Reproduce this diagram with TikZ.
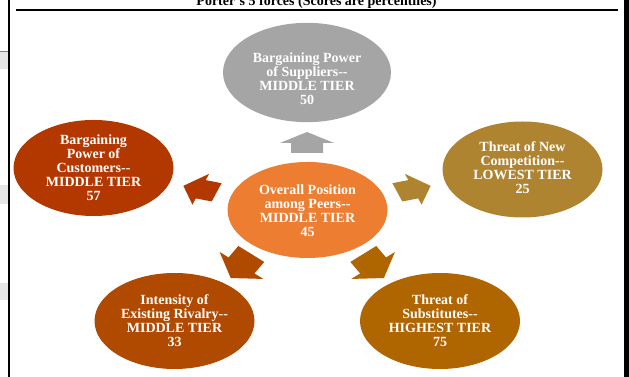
\documentclass[tikz,border=0pt]{standalone}
\usepackage{fontspec}
\setmainfont{Liberation Serif}
\usetikzlibrary{shapes.geometric}
\definecolor{cgray}{HTML}{A5A5A5}
\definecolor{corange}{HTML}{ED7D31}
\definecolor{cred}{HTML}{B33800}
\definecolor{cgold}{HTML}{AF8431}
\definecolor{cbrown}{HTML}{B04A00}
\definecolor{cochre}{HTML}{AF6500}
\definecolor{cpatch}{HTML}{E6E6E6}
\newcommand\forcearrow[4]{%
  \begin{scope}[shift={(#1)},yscale=#4]
    \begin{scope}[rotate=#2]
      \fill[#3] (-17.5,-16) -- (-0.8,-16) -- (-0.8,-27) -- (17.5,0) -- (-0.8,27) -- (-0.8,16) -- (-17.5,16) -- cycle;
    \end{scope}
  \end{scope}}
\begin{document}
\begin{tikzpicture}[x=0.75pt,y=-0.75pt,
  force/.style={ellipse, fill=#1, draw=none, inner sep=0pt, minimum width=120pt, minimum height=72pt},
  forcetext/.style={text=white, font=\bfseries\fontsize{10.5}{10.5}\selectfont, align=center, inner sep=0pt},
  titletext/.style={font=\bfseries\fontsize{10.5}{12}\selectfont, anchor=base, inner sep=0pt}
]
\useasboundingbox (0,0) rectangle (629,377);
% frame pieces
\fill[cpatch] (0,52) rectangle (8,69);
\fill[cpatch] (0,185) rectangle (8,204);
\fill[cpatch] (0,283) rectangle (8,300);
\draw[gray, line width=0.6pt] (0,51.5) -- (8,51.5);
\draw[black, line width=0.9pt] (9,0) -- (9,377);
\draw[black, line width=0.8pt] (16,10) -- (618,10);
\fill[black] (624,0) rectangle (629,377);
\node[titletext] (title) at (316.5,5.5) {Porter's 5 forces (Scores are percentiles)};
% ellipses
\node[force=cgray, minimum width=126pt, minimum height=74.5pt] (sup) at (307,72.5) {};
\node[force=corange] (mid) at (307.5,210) {};
\node[force=cred] (cus) at (93.5,168) {};
\node[force=cgold] (new) at (522.5,169.5) {};
\node[force=cbrown] (riv) at (174.5,321) {};
\node[force=cochre] (sub) at (440,321) {};
% labels
\node[forcetext] (supt) at (307,79) {Bargaining Power\\of Suppliers-{}-\\MIDDLE TIER\\50};
\node[forcetext] (midt) at (307.5,211) {Overall Position\\among Peers-{}-\\MIDDLE TIER\\45};
\node[forcetext] (cust) at (93.5,168) {Bargaining\\Power of\\Customers-{}-\\MIDDLE TIER\\57};
\node[forcetext] (newt) at (522.5,168) {Threat of New\\Competition-{}-\\LOWEST TIER\\25};
\node[forcetext] (rivt) at (174.5,321) {Intensity of\\Existing Rivalry-{}-\\MIDDLE TIER\\33};
\node[forcetext] (subt) at (440,321) {Threat of\\Substitutes-{}-\\HIGHEST TIER\\75};
% arrows
\forcearrow{307,142.5}{90}{cgray}{0.6}
\forcearrow{200,189.1}{162}{cred}{0.6}
\forcearrow{414,189.1}{18}{cgold}{0.6}
\forcearrow{241,266}{234}{cbrown}{0.85}
\forcearrow{373.6,266}{306}{cochre}{0.85}
\end{tikzpicture}
\end{document}
